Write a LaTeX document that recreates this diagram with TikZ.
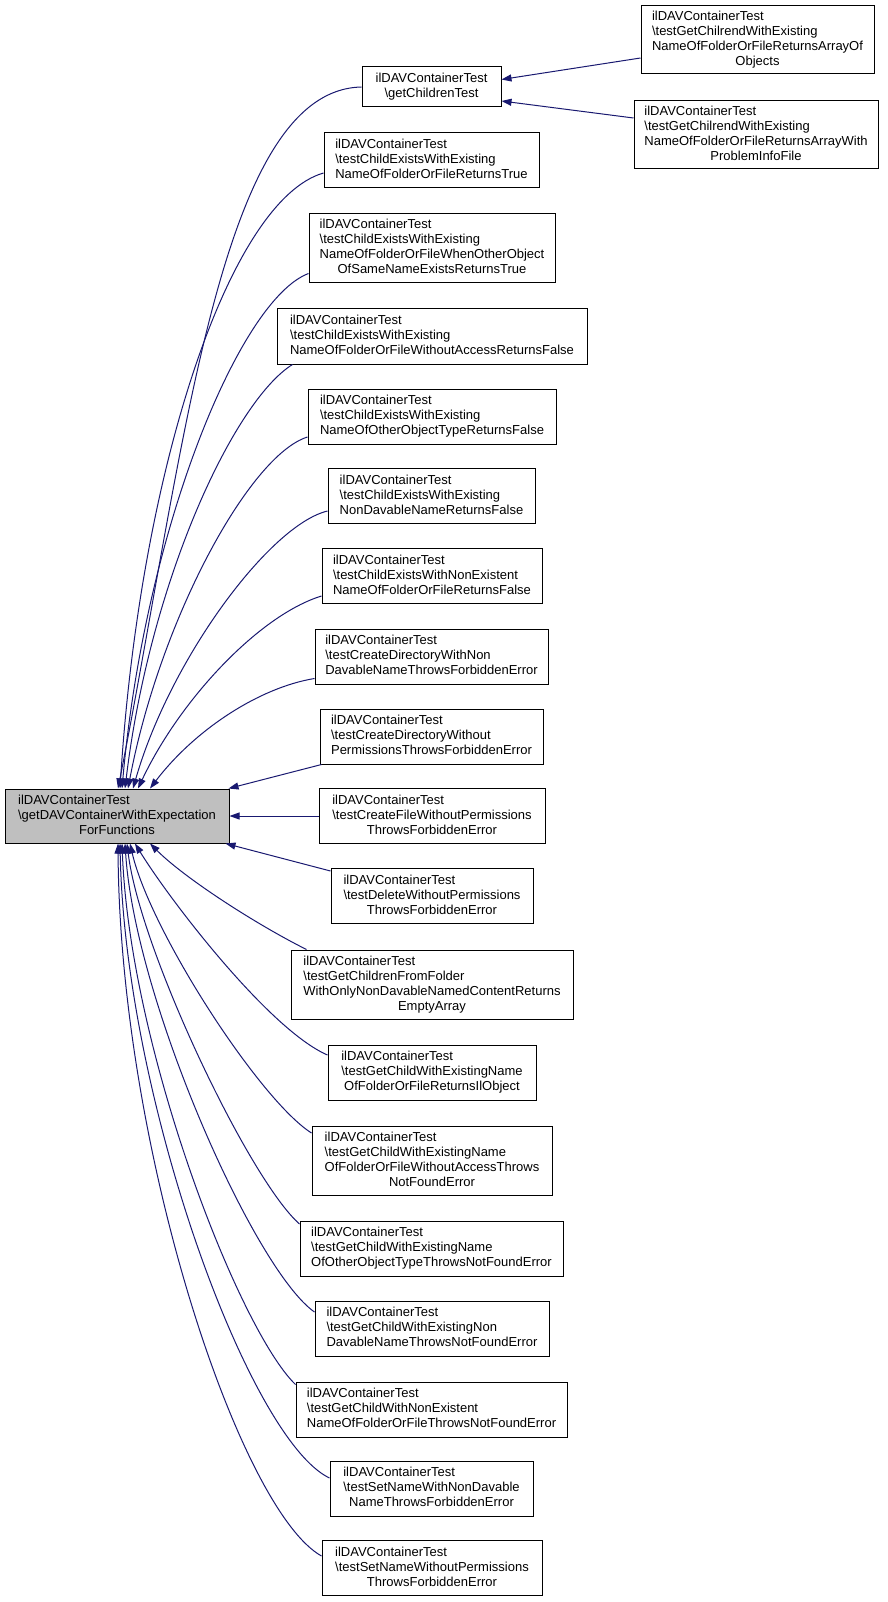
\documentclass[tikz,border=0pt]{standalone}
\usepackage{fontspec}
\setmainfont{Liberation Sans}
\usetikzlibrary{arrows.meta}
\definecolor{edgec}{HTML}{191970}
\definecolor{mainfill}{HTML}{BFBFBF}
\newcommand{\fsz}{\fontsize{13}{15}\selectfont}
\newcommand{\lbl}[2]{\begin{tabular}{@{}l@{}}#1\\\multicolumn{1}{@{}c@{}}{#2}\end{tabular}}
\newcommand{\bsl}{\textbackslash}
\tikzset{
  dbox/.style={draw=black, fill=white, line width=1pt, inner sep=0pt, minimum height=55pt, font=\fsz},
  conn/.style={draw=edgec, line width=1pt, -{Triangle[length=10pt,width=7pt]}}
}
\begin{document}
\begin{tikzpicture}[x=1pt,y=-1pt]
\useasboundingbox (0,0) rectangle (887,1602);
% nodes
\node[dbox, fill=mainfill, minimum width=224pt, minimum height=54pt] (main) at (117,816)
  {\lbl{ilDAVContainerTest\\\bsl getDAVContainerWithExpectation}{ForFunctions}};
\node[dbox, minimum width=139pt, minimum height=40pt] (gct) at (431.5,87)
  {\lbl{ilDAVContainerTest}{\bsl getChildrenTest}};
\node[dbox, minimum width=233pt, minimum height=68pt] (R1) at (757.5,40)
  {\lbl{ilDAVContainerTest\\\bsl testGetChilrendWithExisting\\NameOfFolderOrFileReturnsArrayOf}{Objects}};
\node[dbox, minimum width=244pt, minimum height=68pt] (R2) at (756,135)
  {\lbl{ilDAVContainerTest\\\bsl testGetChilrendWithExisting\\NameOfFolderOrFileReturnsArrayWith}{ProblemInfoFile}};
\node[dbox, minimum width=215pt] (B1) at (431.5,160.5)
  {\lbl{ilDAVContainerTest\\\bsl testChildExistsWithExisting}{NameOfFolderOrFileReturnsTrue}};
\node[dbox, minimum width=246pt, minimum height=69pt] (B2) at (432,248.5)
  {\lbl{ilDAVContainerTest\\\bsl testChildExistsWithExisting\\NameOfFolderOrFileWhenOtherObject}{OfSameNameExistsReturnsTrue}};
\node[dbox, minimum width=310pt] (B3) at (432,336.5)
  {\lbl{ilDAVContainerTest\\\bsl testChildExistsWithExisting}{NameOfFolderOrFileWithoutAccessReturnsFalse}};
\node[dbox, minimum width=248pt] (B4) at (432,416.5)
  {\lbl{ilDAVContainerTest\\\bsl testChildExistsWithExisting}{NameOfOtherObjectTypeReturnsFalse}};
\node[dbox, minimum width=207pt] (B5) at (431.5,496)
  {\lbl{ilDAVContainerTest\\\bsl testChildExistsWithExisting}{NonDavableNameReturnsFalse}};
\node[dbox, minimum width=220pt] (B6) at (432,576)
  {\lbl{ilDAVContainerTest\\\bsl testChildExistsWithNonExistent}{NameOfFolderOrFileReturnsFalse}};
\node[dbox, minimum width=233pt] (B7) at (431.5,656.5)
  {\lbl{ilDAVContainerTest\\\bsl testCreateDirectoryWithNon}{DavableNameThrowsForbiddenError}};
\node[dbox, minimum width=223pt] (B8) at (431.5,736.5)
  {\lbl{ilDAVContainerTest\\\bsl testCreateDirectoryWithout}{PermissionsThrowsForbiddenError}};
\node[dbox, minimum width=226pt] (B9) at (432,816)
  {\lbl{ilDAVContainerTest\\\bsl testCreateFileWithoutPermissions}{ThrowsForbiddenError}};
\node[dbox, minimum width=202pt] (B10) at (432,896)
  {\lbl{ilDAVContainerTest\\\bsl testDeleteWithoutPermissions}{ThrowsForbiddenError}};
\node[dbox, minimum width=282pt, minimum height=69pt] (B11) at (432,984.5)
  {\lbl{ilDAVContainerTest\\\bsl testGetChildrenFromFolder\\WithOnlyNonDavableNamedContentReturns}{EmptyArray}};
\node[dbox, minimum width=208pt] (B12) at (432,1072.5)
  {\lbl{ilDAVContainerTest\\\bsl testGetChildWithExistingName}{OfFolderOrFileReturnsIlObject}};
\node[dbox, minimum width=240pt, minimum height=69pt] (B13) at (432,1160.5)
  {\lbl{ilDAVContainerTest\\\bsl testGetChildWithExistingName\\OfFolderOrFileWithoutAccessThrows}{NotFoundError}};
\node[dbox, minimum width=263pt] (B14) at (431.5,1248.5)
  {\lbl{ilDAVContainerTest\\\bsl testGetChildWithExistingName}{OfOtherObjectTypeThrowsNotFoundError}};
\node[dbox, minimum width=234pt] (B15) at (432,1328.5)
  {\lbl{ilDAVContainerTest\\\bsl testGetChildWithExistingNon}{DavableNameThrowsNotFoundError}};
\node[dbox, minimum width=271pt] (B16) at (431.5,1409.5)
  {\lbl{ilDAVContainerTest\\\bsl testGetChildWithNonExistent}{NameOfFolderOrFileThrowsNotFoundError}};
\node[dbox, minimum width=203pt] (B17) at (431.5,1488.5)
  {\lbl{ilDAVContainerTest\\\bsl testSetNameWithNonDavable}{NameThrowsForbiddenError}};
\node[dbox, minimum width=220pt] (B18) at (432,1568)
  {\lbl{ilDAVContainerTest\\\bsl testSetNameWithoutPermissions}{ThrowsForbiddenError}};
% connectors
\draw[conn] ([shift={(0,18)}]R1.west) -- ([shift={(0,-7.5)}]gct.east);
\draw[conn] ([shift={(0,-17)}]R2.west) -- ([shift={(0,14)}]gct.east);
\draw[conn] (gct.west) .. controls +(-142,3) and +(67,-339) .. ([shift={(1,0)}]main.north);
\draw[conn] ([shift={(0,12.5)}]B1.west) .. controls +(-94,27) and +(20,-319) .. ([shift={(3,0)}]main.north);
\draw[conn] ([shift={(0,25)}]B2.west) .. controls +(-69,26) and +(23,-259) .. ([shift={(5,0)}]main.north);
\draw[conn] ([shift={(16,0)}]B3.south west) .. controls +(-58,36) and +(25,-209) .. ([shift={(8,0)}]main.north);
\draw[conn] ([shift={(0,20.5)}]B4.west) .. controls +(-58,18) and +(32,-169) .. ([shift={(11,0)}]main.north);
\draw[conn] ([shift={(0,15)}]B5.west) .. controls +(-58,14) and +(37,-129) .. ([shift={(16,0)}]main.north);
\draw[conn] ([shift={(0,20)}]B6.west) .. controls +(-62,19) and +(42,-89) .. ([shift={(21,0)}]main.north);
\draw[conn] ([shift={(0,22)}]B7.west) .. controls +(-55,9) and +(45,-59) .. ([shift={(33,0)}]main.north);
\draw[conn] ([shift={(2,0)}]B8.south west) -- ([shift={(-1,0)}]main.north east);
\draw[conn] (B9.west) -- (main.east);
\draw[conn] ([shift={(0,3)}]B10.north west) -- ([shift={(-4,0)}]main.south east);
\draw[conn] ([shift={(16,0)}]B11.north west) .. controls +(-50,-25) and +(35,35) .. ([shift={(33,0)}]main.south);
\draw[conn] ([shift={(0,-17.5)}]B12.west) .. controls +(-58,-25) and +(35,57) .. ([shift={(18,0)}]main.south);
\draw[conn] ([shift={(0,-27.5)}]B13.west) .. controls +(-52,-33) and +(20,87) .. ([shift={(13,0)}]main.south);
\draw[conn] ([shift={(0,-24.5)}]B14.west) .. controls +(-50,-44) and +(13,107) .. ([shift={(10,0)}]main.south);
\draw[conn] ([shift={(0,-16.5)}]B15.west) .. controls +(-60,-42) and +(10,157) .. ([shift={(8,0)}]main.south);
\draw[conn] ([shift={(0,-25)}]B16.west) .. controls +(-56,-54) and +(8,207) .. ([shift={(5,0)}]main.south);
\draw[conn] ([shift={(0,-10.5)}]B17.west) .. controls +(-80,-38) and +(5,257) .. ([shift={(3,0)}]main.south);
\draw[conn] ([shift={(0,-12)}]B18.west) .. controls +(-82,-46) and +(2,307) .. ([shift={(1,0)}]main.south);
\end{tikzpicture}
\end{document}
